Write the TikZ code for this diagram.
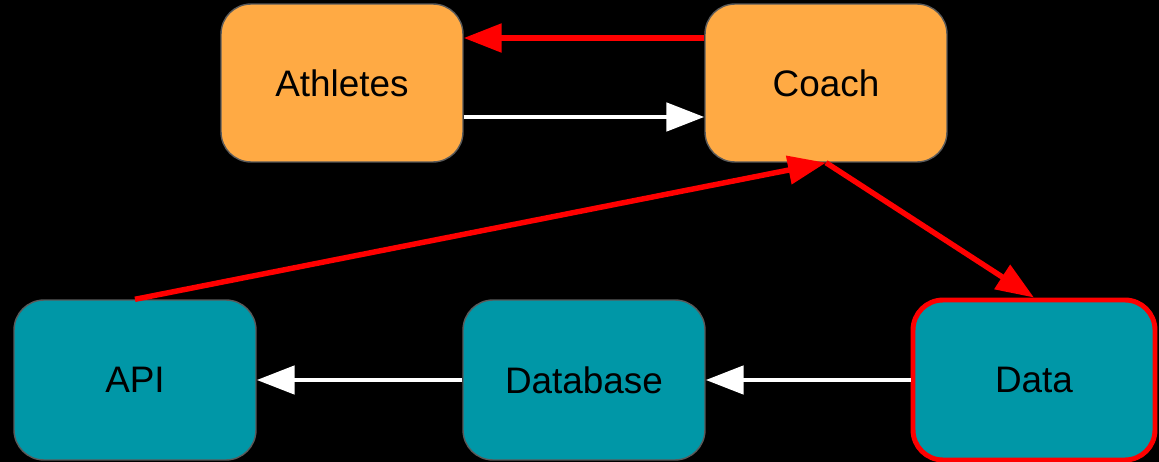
\documentclass[tikz,border=0pt]{standalone}
\usepackage{fontspec}
\setmainfont{Liberation Sans}
\usepackage{xcolor}
\usepackage{tikz}
\usetikzlibrary{
  arrows.meta,
  positioning
}
\definecolor{CoachOrange}{HTML}{FFAA44}
\definecolor{DataTeal}{HTML}{0097A7}
\definecolor{EdgeGray}{HTML}{5A5A5A}
\definecolor{FlowRed}{HTML}{FF0000}

\begin{document}
\begin{tikzpicture}[
    x=0.02cm, y=-0.02cm,
    every node/.style={font=\fontsize{21}{25}\selectfont},
    box/.style={draw=EdgeGray,line width=0.8pt,rounded corners=0.6cm,
      minimum width=4.84cm,minimum height=3.16cm,inner sep=0pt},
    person/.style={box,fill=CoachOrange},
    store/.style={box,fill=DataTeal,minimum height=3.2cm},
    redflow/.style={FlowRed,line width=3.1pt,
      -{Triangle[length=0.76cm,width=0.56cm]}},
    whiteflow/.style={white,line width=2.8pt,
      -{Triangle[length=0.76cm,width=0.56cm]}}
  ]
    % background and frame
    \fill[black] (0,0) rectangle (1159,462);
    \useasboundingbox (0,0) rectangle (1159,462);
    % top row
    \node[person] (athletes) at (342,83) {Athletes};
    \node[person] (coach) at (826,83) {Coach};
    % bottom row
    \node[store] (api) at (135,380) {API};
    \node[store] (database) at (584,380) {Database};
    \node[store,draw=FlowRed,line width=2.8pt] (data) at (1034,380) {Data};
    % flows between the rows
    \draw[redflow] ([yshift=0.9cm]coach.west) -- ([yshift=0.9cm]athletes.east);
    \draw[whiteflow] ([yshift=-0.68cm]athletes.east) -- ([yshift=-0.68cm]coach.west);
    \draw[redflow] (api.north) -- (coach.south);
    \draw[redflow] (coach.south) -- (data.north);
    \draw[whiteflow] (data.west) -- (database.east);
    \draw[whiteflow] (database.west) -- (api.east);
  \end{tikzpicture}
\end{document}
